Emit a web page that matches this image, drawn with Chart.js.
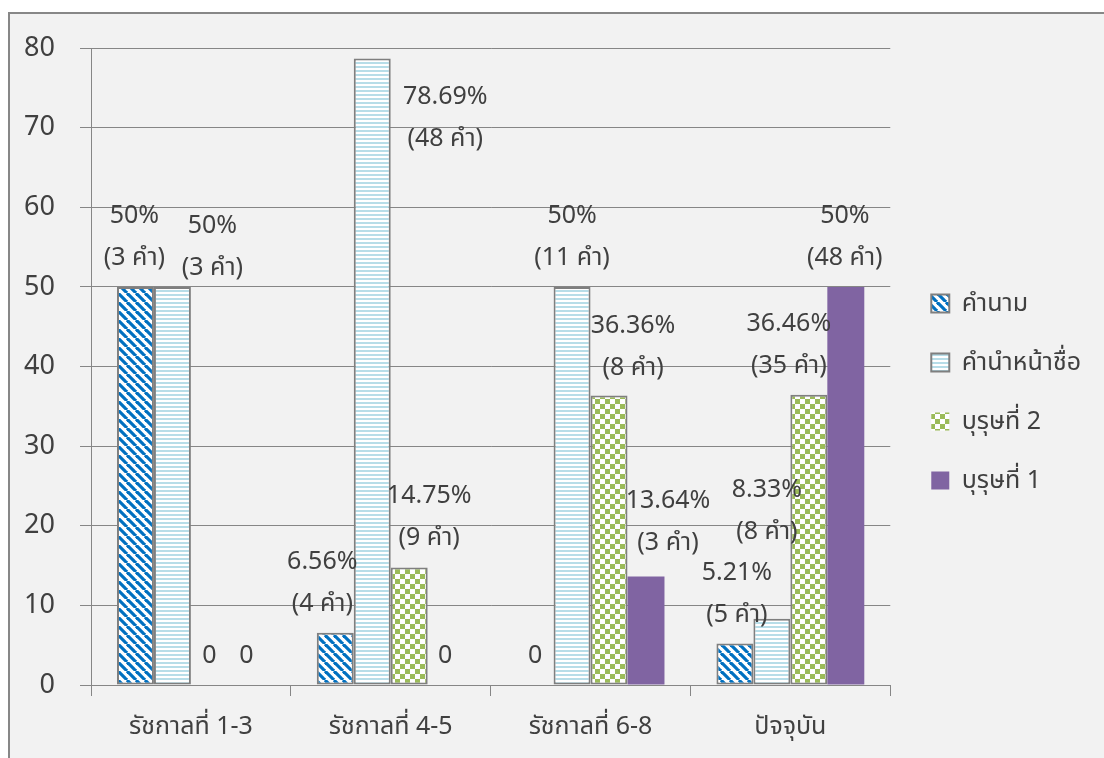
<!DOCTYPE html>
<html>
<head>
<meta charset="utf-8">
<script src="https://cdn.jsdelivr.net/npm/chart.js@4/dist/chart.umd.min.js"></script>
<style>
  html, body { margin: 0; padding: 0; background: #ffffff; }
  #frame {
    position: absolute; left: 8px; top: 12px; width: 1096px; height: 746px;
    box-sizing: border-box; background: #f2f2f2;
    border-top: 2px solid #878787; border-left: 2px solid #878787;
  }
  #chart { position: absolute; left: 0; top: 0; }
</style>
</head>
<body>
<div id="frame"><canvas id="chart" width="1094" height="744"></canvas></div>
<script>
// Categories (reign periods) and series names
const categories = ['รัชกาลที่ 1-3', 'รัชกาลที่ 4-5', 'รัชกาลที่ 6-8', 'ปัจจุบัน'];
const seriesNames = ['คำนาม', 'คำนำหน้าชื่อ', 'บุรุษที่ 2', 'บุรุษที่ 1'];

// Percentages per series
const nounPct    = [50, 6.56, 0, 5.21];
const titlePct   = [50, 78.69, 50, 8.33];
const second2Pct = [0, 14.75, 36.36, 36.46];
const first1Pct  = [0, 0, 13.64, 50];

// Word counts per series
const nounWords    = [3, 4, 0, 5];
const titleWords   = [3, 48, 11, 8];
const second2Words = [0, 9, 8, 35];
const first1Words  = [0, 0, 3, 48];

// Value axis ticks
const yTicks = [0, 10, 20, 30, 40, 50, 60, 70, 80];

const FONT = "'Noto Sans', 'Noto Sans Thai', sans-serif";
const TEXT = '#404040';
const LINE = '#868686';

// Fill patterns
function makePattern(size, draw) {
  const c = document.createElement('canvas');
  c.width = size; c.height = size;
  const g = c.getContext('2d');
  g.fillStyle = '#ffffff';
  g.fillRect(0, 0, size, size);
  draw(g, size);
  return document.getElementById('chart').getContext('2d').createPattern(c, 'repeat');
}
const diagBlue = makePattern(9, (g, s) => {
  g.strokeStyle = '#0070c0'; g.lineWidth = 3.2;
  for (const o of [-s, 0, s]) {
    g.beginPath(); g.moveTo(o, 0); g.lineTo(o + s, s); g.stroke();
  }
});
const hLightBlue = makePattern(4, (g, s) => {
  g.fillStyle = '#b7dde8'; g.fillRect(0, 0, s, 2);
});
const checkGreen = makePattern(10, (g, s) => {
  g.fillStyle = '#9bbb59';
  g.fillRect(0, 0, 5, 5); g.fillRect(5, 5, 5, 5);
});

// Label placement tweaks (dx, dy in px) per series / category
const labelNudge = [
  [[-1, 0], [-13, 0], [0, 0], [2, 0]],
  [[40, 10], [73, 109], [0, 0], [-5, -58]],
  [[0, 0], [20, -1], [24, 1], [-20, 0]],
  [[0, 0], [-1, 0], [22, -5], [-1, 0]]
];

const pctSeries = [nounPct, titlePct, second2Pct, first1Pct];
const wordSeries = [nounWords, titleWords, second2Words, first1Words];
const fills = [diagBlue, hLightBlue, checkGreen, '#8064a2'];

const datasets = seriesNames.map((name, i) => ({
  label: name,
  data: pctSeries[i],
  words: wordSeries[i],
  backgroundColor: fills[i],
  borderColor: i === 3 ? '#8064a2' : '#7f7f7f',
  borderWidth: i === 3 ? 0 : (ctx => ctx.raw === 0 ? 0 : 2),
  borderSkipped: false,
  categoryPercentage: 0.74,
  barPercentage: 1.0
}));

// Draws the "xx% / (n คำ)" labels above each bar
const barLabels = {
  id: 'barLabels',
  afterDatasetsDraw(chart) {
    const ctx = chart.ctx;
    ctx.save();
    ctx.font = '25px ' + FONT;
    ctx.fillStyle = TEXT;
    ctx.textAlign = 'center';
    ctx.textBaseline = 'middle';
    chart.data.datasets.forEach((ds, di) => {
      const meta = chart.getDatasetMeta(di);
      meta.data.forEach((bar, i) => {
        const v = ds.data[i];
        const lines = v === 0 ? ['0'] : [v + '%', '(' + ds.words[i] + ' คำ)'];
        const [dx, dy] = labelNudge[di][i];
        let y = bar.y - 29 + dy;
        for (let k = lines.length - 1; k >= 0; k--) {
          ctx.fillText(lines[k], bar.x + dx, y);
          y -= 42;
        }
      });
    });
    ctx.restore();
  }
};

// Moves the legend block a little away from the plot and up
const legendShift = {
  id: 'legendShift',
  afterLayout(chart) {
    const lg = chart.legend;
    if (!lg) return;
    lg.left += 7; lg.right += 7;
    lg.top -= 11; lg.bottom -= 11;
  }
};

new Chart(document.getElementById('chart'), {
  type: 'bar',
  data: { labels: categories, datasets },
  options: {
    responsive: false,
    animation: false,
    events: [],
    layout: { padding: { left: 0, top: 34, right: 20, bottom: 0 } },
    plugins: {
      tooltip: { enabled: false },
      legend: {
        position: 'right',
        labels: {
          boxWidth: 18, boxHeight: 18, padding: 34,
          color: TEXT, font: { family: FONT, size: 25 }
        }
      }
    },
    scales: {
      x: {
        grid: { offset: true, drawOnChartArea: false, drawTicks: true, tickLength: 11, color: LINE, lineWidth: 1 },
        border: { display: true, color: LINE, width: 1 },
        ticks: { color: TEXT, padding: 16, font: { family: FONT, size: 25 } }
      },
      y: {
        min: 0, max: 80,
        afterBuildTicks(scale) { scale.ticks = yTicks.map(v => ({ value: v })); },
        afterFit(scale) {
          scale.width = 81;
          scale.paddingTop = 0;
          scale.paddingBottom = 0;
        },
        grid: { color: LINE, lineWidth: 1, tickLength: 11 },
        border: { display: true, color: LINE, width: 1 },
        ticks: { color: TEXT, padding: 25, font: { family: FONT, size: 27 } }
      }
    }
  },
  plugins: [barLabels, legendShift]
});
</script>
</body>
</html>
